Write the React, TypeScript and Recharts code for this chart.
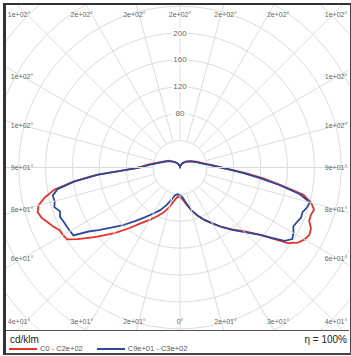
import { PolarAngleAxis, PolarGrid, PolarRadiusAxis, Radar, RadarChart } from "recharts";

// gamma angles (deg from nadir) for one half-plane
const gammas = [0, 5, 10, 15, 20, 25, 30, 35, 40, 45, 50, 52.5, 55, 57.5, 60, 62.5, 65, 67.5, 70, 72.5, 75, 77.5, 80, 82.5, 85, 87.5, 90, 95, 100, 110, 120, 135, 150, 165, 180];

// cd/klm, C0 plane (right) and C180 plane (left)
const c0Right = [44, 48, 56, 66, 76, 86, 96, 108, 120, 134, 156, 174, 196, 208, 214, 217, 215, 208, 207, 209, 202, 188, 153, 125, 98, 76, 62, 46, 36, 26, 19, 13, 8, 4, 1];
const c0Left = [42, 44, 50, 61, 71, 80, 90, 101, 118, 138, 160, 172, 186, 199, 201, 202, 208, 213, 219, 222, 218, 206, 190, 160, 125, 80, 62, 48, 38, 26, 20, 12, 7, 3, 1];
// cd/klm, C90 plane (right) and C270 plane (left)
const c90Right = [41, 45, 54, 66, 76, 86, 96, 108, 121, 136, 156, 172, 190, 198, 195, 190, 192, 195, 194, 198, 200, 182, 150, 120, 95, 74, 60, 44, 34, 24, 18, 12, 7, 3, 1];
const c90Left = [40, 40, 42, 50, 60, 70, 79, 90, 104, 122, 141, 153, 166, 188, 189, 190, 191, 193, 190, 196, 193, 194, 185, 158, 122, 80, 60, 46, 36, 25, 19, 12, 7, 3, 1];

const seriesNames = ["C0 - C2e+02", "C9e+01 - C3e+02"];
const seriesColors = ["#e5322a", "#2c4a96"];

const radiusTicks = [40, 80, 120, 160, 200, 240, 280, 320, 360];
const radiusLabels = [80, 120, 160, 200];
const angleTicks = [0, 15, 30, 45, 60, 75, 90, 105, 120, 135, 150, 165, 180, 195, 210, 225, 240, 255, 270, 285, 300, 315, 330, 345];
const gammaTicks = [0, 15, 30, 45, 60, 75, 90, 105, 120, 135, 150, 165, 180];
const gammaTickLabels = ["0°", "2e+01°", "3e+01°", "4e+01°", "6e+01°", "8e+01°", "9e+01°", "1e+02°", "1e+02°", "1e+02°", "2e+02°", "2e+02°", "2e+02°"];

const data = [
  ...gammas.map((g, i) => ({ angle: g, c0: c0Right[i], c90: c90Right[i] })),
  ...gammas
    .map((g, i) => ({ angle: 360 - g, c0: c0Left[i], c90: c90Left[i] }))
    .filter((d) => d.angle > 180 && d.angle < 360)
    .reverse(),
];

const FONT = "'Liberation Sans', Arial, sans-serif";
const PLOT_W = 343;
const PLOT_H = 325;
const CX = 174;
const CY = 162.5;
const OUTER = 242;
const INNER_RING = OUTER * (40 / 360);

function AngleTick(props: any) {
  const a = props.payload.value;
  const g = a <= 180 ? a : 360 - a;
  const text = gammaTickLabels[gammaTicks.indexOf(g)];
  const rad = (a * Math.PI) / 180;
  const dx = Math.sin(rad);
  const dy = Math.cos(rad);
  let x: number;
  let y: number;
  if (Math.abs(dy) * 158 >= Math.abs(dx) * 153.5) {
    y = CY + Math.sign(dy) * 153.5;
    x = CX + (dx / Math.abs(dy)) * 170;
  } else {
    x = CX + Math.sign(dx) * 158;
    y = CY + (dy / Math.abs(dx)) * 157;
  }
  x = Math.min(330, Math.max(13, x));
  y = Math.min(316, Math.max(9, y));
  return (
    <text x={x} y={y} textAnchor="middle" dominantBaseline="central" fontSize={7} fill="#666" fontFamily={FONT}>
      {text}
    </text>
  );
}

function RadiusTick(props: any) {
  const { x, y, payload } = props;
  if (!radiusLabels.includes(payload.value)) return <g />;
  return (
    <g>
      <rect x={x - 8} y={y - 5} width={16} height={10} fill="#fff" />
      <text x={x} y={y} textAnchor="middle" dominantBaseline="central" fontSize={8} fill="#666" fontFamily={FONT}>
        {payload.value}
      </text>
    </g>
  );
}

export default function App() {
  return (
    <div style={{ position: "absolute", left: 0, top: 0, width: 351, height: 356, background: "#fff", fontFamily: FONT }}>
      <div
        style={{
          position: "absolute",
          left: 3,
          top: 3,
          width: 344,
          height: 348,
          borderLeft: "3px solid #333",
          borderTop: "2px solid #333",
          borderRight: "1px solid #444",
          borderBottom: "2px solid #444",
        }}
      >
        <div style={{ position: "absolute", left: 0, top: 0, width: PLOT_W, height: PLOT_H, overflow: "hidden", borderBottom: "1px solid #555" }}>
          <RadarChart
            width={PLOT_W}
            height={PLOT_H}
            data={data}
            cx={CX}
            cy={CY}
            outerRadius={OUTER}
            startAngle={-90}
            endAngle={270}
            margin={{ top: 0, right: 0, bottom: 0, left: 0 }}
          >
            <PolarGrid gridType="circle" radialLines={false} stroke="#dcdcdc" />
            <PolarAngleAxis
              dataKey="angle"
              type="number"
              domain={[0, 360]}
              ticks={angleTicks}
              axisLine={false}
              orientation="inner"
              tickSize={OUTER - INNER_RING}
              tickLine={{ stroke: "#dcdcdc" }}
              tick={AngleTick}
            />
            <PolarRadiusAxis
              type="number"
              angle={90}
              domain={[0, 360]}
              ticks={radiusTicks}
              axisLine={false}
              tickLine={false}
              tick={RadiusTick}
            />
            <Radar dataKey="c0" name={seriesNames[0]} stroke={seriesColors[0]} strokeWidth={1.8} fill="none" fillOpacity={0} dot={false} isAnimationActive={false} />
            <Radar dataKey="c90" name={seriesNames[1]} stroke={seriesColors[1]} strokeWidth={1.8} fill="none" fillOpacity={0} dot={false} isAnimationActive={false} />
          </RadarChart>
        </div>
        <div style={{ position: "absolute", left: 4, top: 329, fontSize: 10, color: "#222" }}>cd/klm</div>
        <div style={{ position: "absolute", right: 3, top: 329, fontSize: 10, color: "#222" }}>η = 100%</div>
        <div style={{ position: "absolute", left: 3, top: 339, display: "flex", alignItems: "center", fontSize: 7.5, color: "#555" }}>
          {seriesNames.map((n, i) => (
            <div key={n} style={{ display: "flex", alignItems: "center", marginRight: 14 }}>
              <div style={{ width: 28, height: 2, background: seriesColors[i], marginRight: 3 }} />
              <span>{n}</span>
            </div>
          ))}
        </div>
      </div>
    </div>
  );
}
